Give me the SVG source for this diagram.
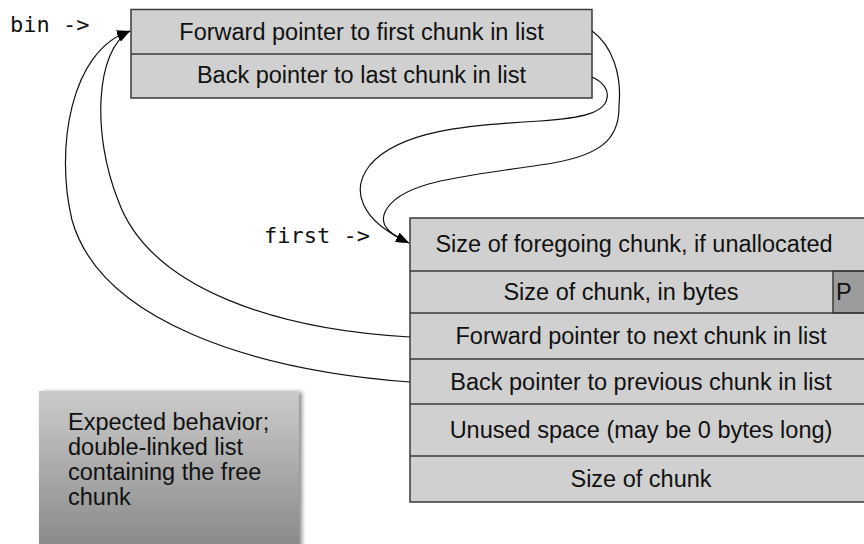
<svg xmlns="http://www.w3.org/2000/svg" width="864" height="544" viewBox="0 0 864 544">
<style>
.cell{fill:#d0d0d0;stroke:#3a3a3a;stroke-width:1.5}
.div{stroke:#3a3a3a;stroke-width:1.5}
.t{font-family:"Liberation Sans",Arial,Helvetica,sans-serif;font-size:23.5px;fill:#111}
.m{font-family:"DejaVu Sans Mono","Liberation Mono",monospace;font-size:22px;fill:#111}
.c{fill:none;stroke:#111;stroke-width:1.2}
</style>
<defs>
<marker id="ah" markerWidth="13" markerHeight="10" refX="13" refY="5" orient="auto" markerUnits="userSpaceOnUse">
<path d="M0,0 L13,5 L0,10 z" fill="#000"/>
</marker>
<linearGradient id="ng" x1="0" y1="0" x2="0" y2="1">
<stop offset="0" stop-color="#cbcbcb"/>
<stop offset="1" stop-color="#888888"/>
</linearGradient>
<filter id="sh" x="-10%" y="-10%" width="130%" height="130%">
<feDropShadow dx="3" dy="1" stdDeviation="2" flood-color="#000" flood-opacity="0.45"/>
</filter>
</defs>
<rect width="864" height="544" fill="#fff"/>

<g id="bin-label"><text class="m" x="10" y="32">bin -&gt;</text></g>
<g id="first-label"><text class="m" x="264" y="243">first -&gt;</text></g>

<g id="bin">
<rect class="cell" x="131" y="9.5" width="461" height="88.5"/>
<line class="div" x1="131" y1="54" x2="592" y2="54"/>
<text class="t" x="361.5" y="40" text-anchor="middle">Forward pointer to first chunk in list</text>
<text class="t" x="361.5" y="83" text-anchor="middle">Back pointer to last chunk in list</text>
</g>

<g id="chunk">
<rect class="cell" x="410" y="218" width="470" height="284"/>
<rect x="833" y="271" width="50" height="42" fill="#9c9c9c" stroke="#3a3a3a" stroke-width="1.5"/>
<line class="div" x1="410" y1="271" x2="880" y2="271"/>
<line class="div" x1="410" y1="313" x2="880" y2="313"/>
<line class="div" x1="410" y1="359" x2="880" y2="359"/>
<line class="div" x1="410" y1="404" x2="880" y2="404"/>
<line class="div" x1="410" y1="456" x2="880" y2="456"/>
<text class="t" x="634" y="252" text-anchor="middle">Size of foregoing chunk, if unallocated</text>
<text class="t" x="621" y="300" text-anchor="middle">Size of chunk, in bytes</text>
<text class="t" x="836" y="300">P</text>
<text class="t" x="641" y="344" text-anchor="middle">Forward pointer to next chunk in list</text>
<text class="t" x="641" y="390" text-anchor="middle">Back pointer to previous chunk in list</text>
<text class="t" x="641" y="438" text-anchor="middle">Unused space (may be 0 bytes long)</text>
<text class="t" x="641" y="487" text-anchor="middle">Size of chunk</text>
</g>

<g id="note">
<rect x="39" y="391" width="260" height="160" fill="url(#ng)" filter="url(#sh)"/>
<text class="t" x="68" y="430">Expected behavior;</text>
<text class="t" x="68" y="455">double-linked list</text>
<text class="t" x="68" y="480">containing the free</text>
<text class="t" x="68" y="505">chunk</text>
</g>

<g id="connectors">
<path class="c" marker-end="url(#ah)" d="M592,31 C612,45 622,75 619,105 C620,140 600,157 540,165 C470,176 400,180 385,212 C378,228 395,236 409,243"/>
<path class="c" marker-end="url(#ah)" d="M592,77 C603,82 609,90 607,98 C605,112 585,118 540,121 C470,125 400,130 370,165 C350,190 360,220 409,243"/>
<path class="c" marker-end="url(#ah)" d="M410,337 C280,330 150,290 118,200 C92,135 95,50 130,31"/>
<path class="c" marker-end="url(#ah)" d="M410,382 C250,370 100,320 72,220 C55,150 70,50 130,31"/>
</g>
</svg>
